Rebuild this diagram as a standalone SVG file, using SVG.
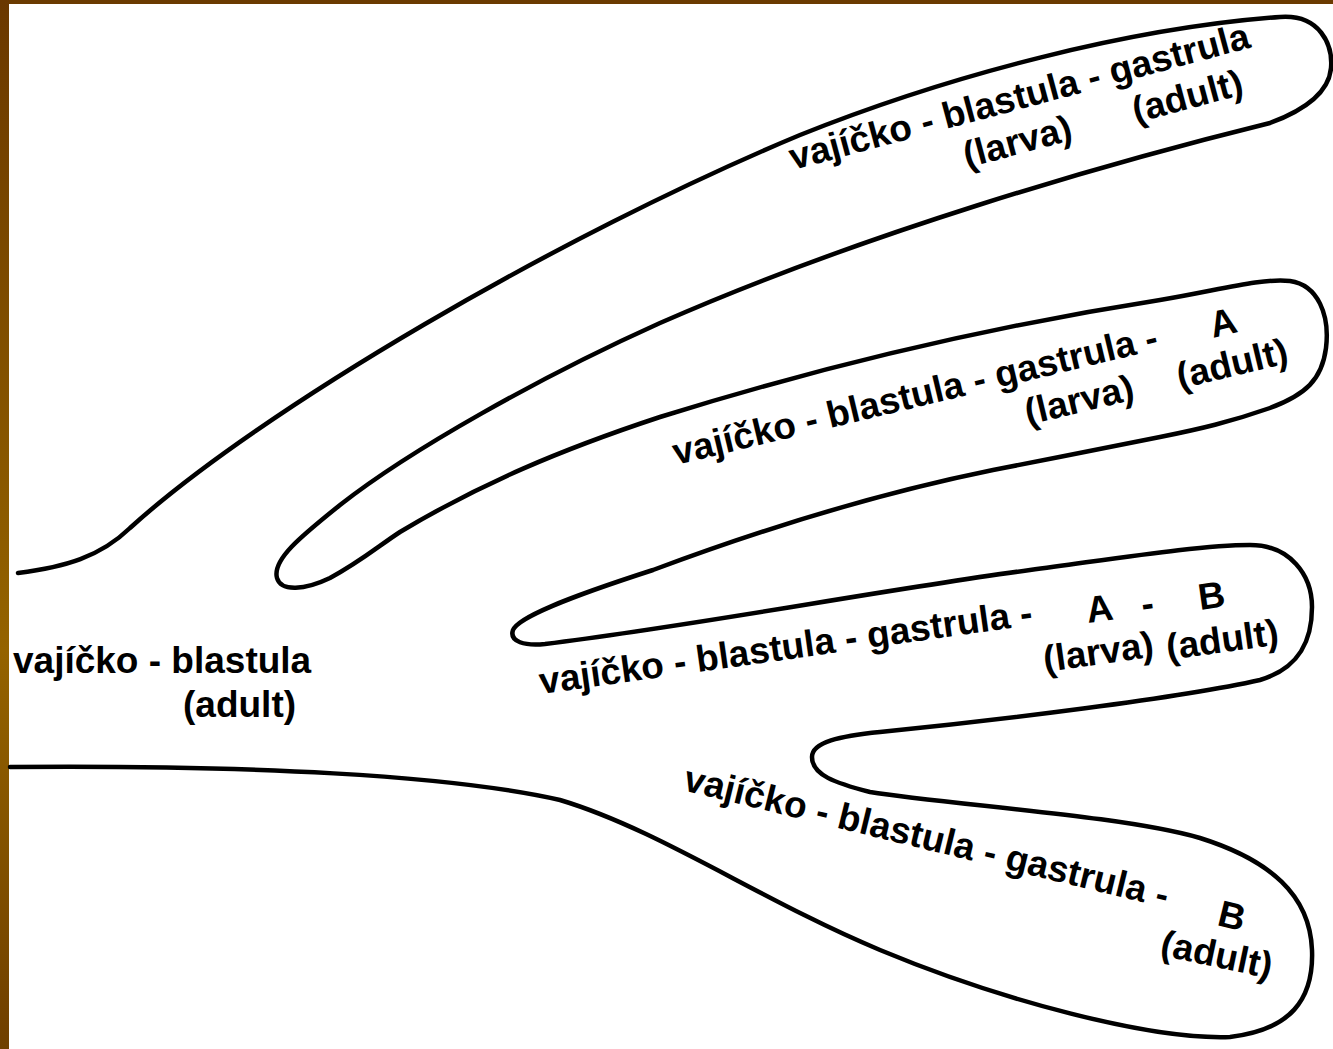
<svg xmlns="http://www.w3.org/2000/svg" width="1333" height="1049" viewBox="0 0 1333 1049">
<defs>
<linearGradient id="bar" x1="0" y1="0" x2="0" y2="1">
<stop offset="0" stop-color="#6a3800"/>
<stop offset="0.62" stop-color="#946300"/>
<stop offset="1" stop-color="#6f3f00"/>
</linearGradient>
</defs>
<style>
.t{font-family:"Liberation Sans",Arial,sans-serif;font-weight:bold;font-size:37px;fill:#000}
.o{fill:none;stroke:#000;stroke-width:4.5;stroke-linecap:round;stroke-linejoin:round}
</style>
<rect width="1333" height="1049" fill="#fff"/>
<rect x="0" y="0" width="1333" height="4" fill="#6b3a00"/>
<rect x="0" y="0" width="9" height="1049" fill="url(#bar)"/>
<g id="outline">
<path class="o" d="M18,573 C65,567 100,557 130,528 C260,410 560,235 800,135 C950,75 1130,28 1280,17 C1320,14 1333,45 1331,68 C1329,92 1305,110 1270,123 C1100,165 860,235 660,323 C540,377 410,450 340,505 C300,537 272,560 277,578 C281,592 305,590 330,578 C360,562 380,545 400,532 C480,484 560,450 660,417 C830,364 1000,325 1160,300 C1220,290 1260,278 1290,281 C1318,285 1330,315 1326,348 C1322,380 1305,395 1270,408 C1230,422 1200,429 1160,437 C1100,449 1050,459 993,470 C870,495 760,530 653,570 C560,600 518,618 513,630 C509,642 525,646 545,644 C700,625 880,590 1030,570 C1120,558 1200,545 1250,545 C1290,545 1312,575 1312,607 C1312,640 1300,668 1260,680 C1180,698 1000,720 880,732 C840,736 812,742 812,757 C812,775 835,783 870,792 C950,805 1120,815 1200,838 C1270,860 1310,895 1312,950 C1314,1000 1290,1030 1230,1037 C1150,1040 1000,1000 880,950 C760,900 660,830 560,800 C450,775 250,765 10,767"/>
</g>
<g id="palm">
<text class="t" x="13" y="673">vajíčko - blastula</text>
<text class="t" x="183" y="717">(adult)</text>
</g>
<g id="finger1">
<text class="t" transform="translate(793,170) rotate(-15)">vajíčko - blastula - gastrula</text>
<text class="t" transform="translate(967,168) rotate(-15)">(larva)</text>
<text class="t" transform="translate(1136,123) rotate(-15)">(adult)</text>
</g>
<g id="finger2">
<text class="t" transform="translate(676,465) rotate(-13.5)">vajíčko - blastula - gastrula -</text>
<text class="t" transform="translate(1213,338) rotate(-13.5)">A</text>
<text class="t" transform="translate(1028,425) rotate(-13.5)">(larva)</text>
<text class="t" transform="translate(1180,389) rotate(-13.5)">(adult)</text>
</g>
<g id="finger3">
<text class="t" transform="translate(541,694) rotate(-8)">vajíčko - blastula - gastrula -</text>
<text class="t" transform="translate(1088,623) rotate(-8)">A</text>
<text class="t" transform="translate(1143,617) rotate(-8)">-</text>
<text class="t" transform="translate(1200,610) rotate(-8)">B</text>
<text class="t" transform="translate(1045,672) rotate(-8)">(larva)</text>
<text class="t" transform="translate(1168,660) rotate(-8)">(adult)</text>
</g>
<g id="thumb">
<text class="t" transform="translate(682,790) rotate(13.7)">vajíčko - blastula - gastrula -</text>
<text class="t" transform="translate(1216,925) rotate(13.7)">B</text>
<text class="t" transform="translate(1159,955) rotate(12)">(adult)</text>
</g>
</svg>
